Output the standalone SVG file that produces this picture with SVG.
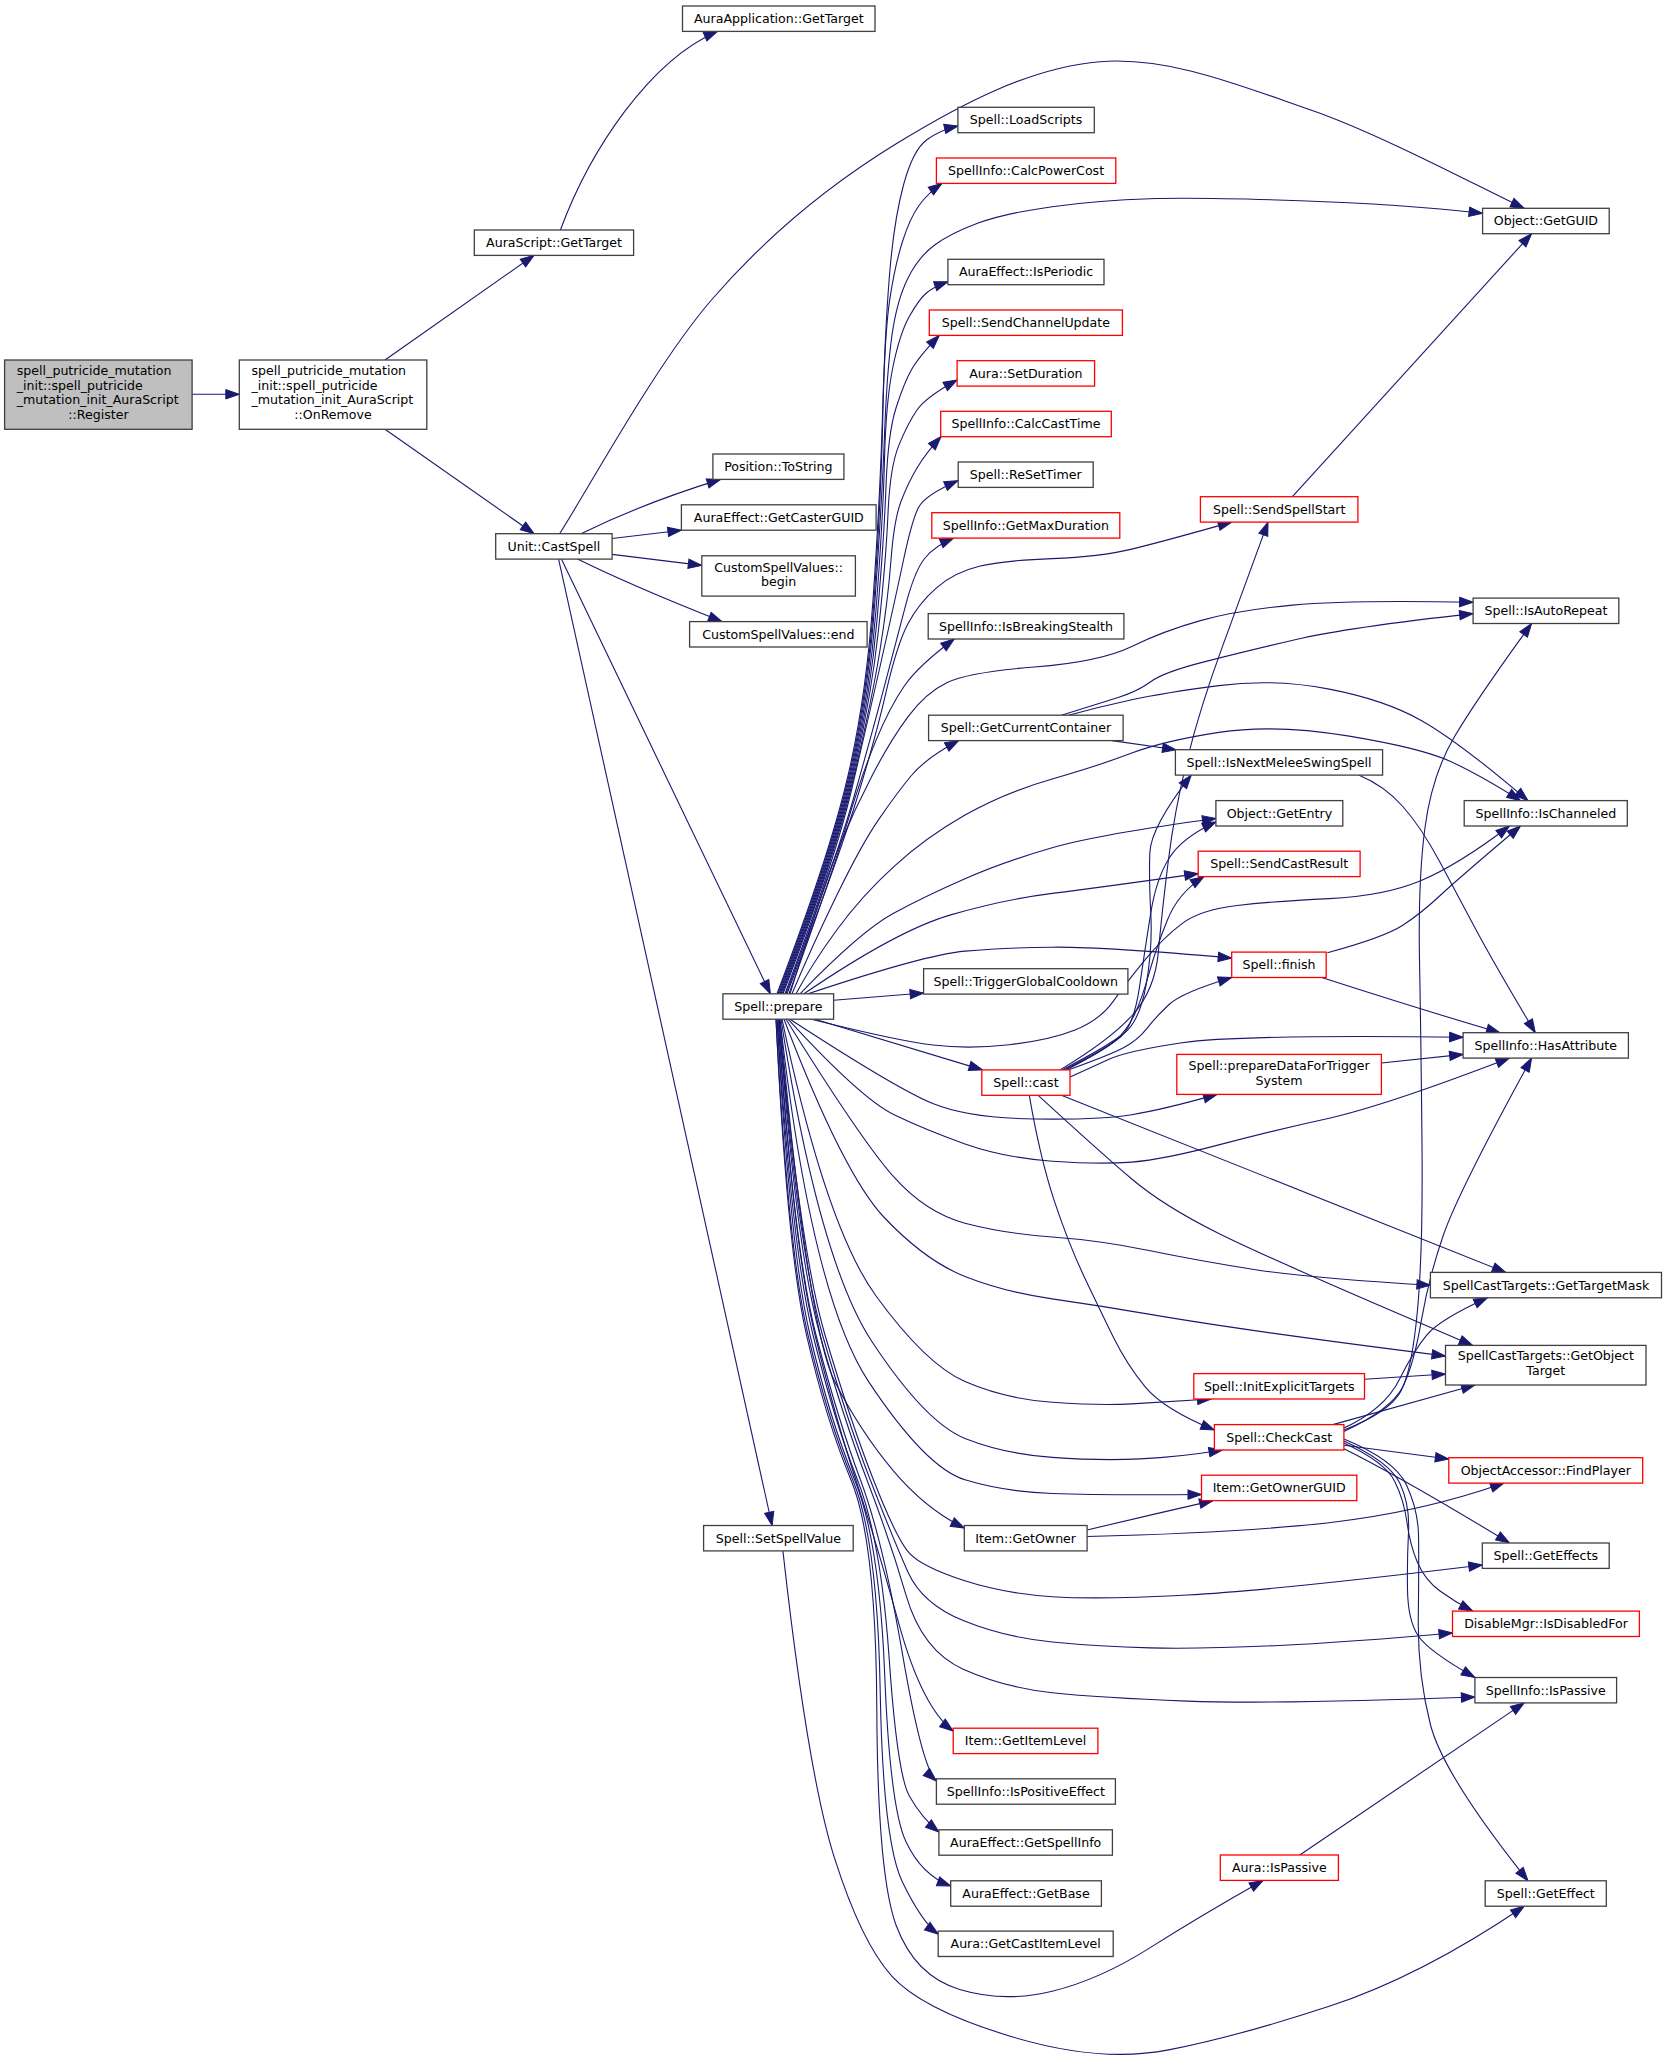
<svg xmlns="http://www.w3.org/2000/svg" width="1667" height="2066" viewBox="0 0 1667 2066">
<style>
.nd rect{fill:#fff;stroke:#404040;stroke-width:1.3}
.rd rect{fill:#fff;stroke:#ff0000;stroke-width:1.3}
.gr rect{fill:#bfbfbf;stroke:#404040;stroke-width:1.3}
text{font-family:"DejaVu Sans","Liberation Sans",sans-serif;font-size:12.6px;fill:#000;text-anchor:middle}
text.lt{text-anchor:start}
#edges path{fill:none;stroke:#191970;stroke-width:1.1;marker-end:url(#ah)}
</style>
<defs>
<marker id="ah" viewBox="0 0 14 10" refX="13.5" refY="5" markerWidth="14" markerHeight="10" orient="auto" markerUnits="userSpaceOnUse" overflow="visible"><path d="M0,0.3 L13.5,5 L0,9.7 Z" fill="#191970" stroke="#191970" stroke-width="1"/></marker>
</defs>
<rect x="0" y="0" width="1667" height="2066" fill="#fff"/>
<g id="edges">
<path d="M192.1,394.3 L239.3,394.3"/>
<path d="M385,360 L534,255.3"/>
<path d="M385,429.3 L534,533.7"/>
<path d="M560.4,230 C590,150 650,60 717.5,31.4"/>
<path d="M559.6,533.7 C584.9,494.8 655.2,365.1 711.4,300 C767.6,234.9 832.2,183 897,143.3 C961.8,103.6 1031,67.3 1100,61.7 C1169,56.2 1240.1,85.6 1310.8,110 C1381.5,134.4 1488.6,191.9 1524.2,208.3"/>
<path d="M581,533.7 C611,519 660,498 720.5,479.4"/>
<path d="M612.1,538.5 L681.4,530.2"/>
<path d="M612.1,554.4 L701.8,565.4"/>
<path d="M577.5,559.1 C620,580 680,605 722,621.6"/>
<path d="M561.4,559.1 L770.4,993.8"/>
<path d="M558.6,559.1 L772.1,1525.5"/>
<path d="M777,993.8 Q828,860 847,780 Q866,700 873,600 Q880,500 882.5,415 Q885,330 889.5,275 Q894,220 903.5,185 Q913,150 926.5,140 Q940,130 957.9,126"/>
<path d="M778,993.8 Q829,860 848,780 Q867,700 874,600 Q881,500 882.8,416.7 Q884.6,333.3 889.8,299.2 Q895,265 902.5,241.5 Q910,218 919,205.5 Q928,193 942,183.4"/>
<path d="M779,993.8 Q830,860 849,780 Q868,700 875,600 Q882,500 884.5,435 Q887,370 892,335 Q897,300 907.8,278.4 Q918.6,256.7 934.7,245 Q950.7,233.3 977.5,223.3 Q1004.3,213.3 1052.2,206.7 Q1100,200 1150,198.7 Q1200,197.3 1300,200.7 Q1400,204 1482.6,213.3"/>
<path d="M780,993.8 Q831,860 850,780 Q869,700 876,610 Q883,520 884.5,460 Q886,400 893,366.5 Q900,333 909.3,316.5 Q918.6,300 925.8,293.5 Q933,287 947.9,281.7"/>
<path d="M781,993.8 Q832,860 851,780 Q870,700 877,620 Q884,540 886,486.5 Q888,433 896,408 Q904,383 911.3,370 Q918.6,357 939.3,335.4"/>
<path d="M782,993.8 Q833,860 852,780 Q871,700 878.5,630 Q886,560 888,513.4 Q890,466.7 899,444.9 Q908,423 917,410 Q926,397 957.1,380"/>
<path d="M783,993.8 Q834,860 853,780 Q872,700 880,650 Q888,600 891,560 Q894,520 901,501.5 Q908,483 917,468 Q926,453 941,436.7"/>
<path d="M785,993.8 Q835,860 851.5,790 Q868,720 881.5,660 Q895,600 903.5,560 Q912,520 918.5,507.5 Q925,495 957.9,480.7"/>
<path d="M786,993.8 Q836,860 854.5,795 Q873,730 885,683.9 Q897,637.7 906,603.9 Q915,570 925,558 Q935,546 953.6,538.1"/>
<path d="M787,993.8 Q838,860 856.5,800 Q875,740 886,692.3 Q897,644.6 907.8,624 Q918.6,603.3 936.5,587.8 Q954.3,572.3 979.3,566.3 Q1004.3,560.3 1052.2,558.6 Q1100,556.8 1131.8,549.1 Q1163.6,541.3 1231.7,522.1"/>
<path d="M789,993.8 Q830,880 845.7,827.8 Q861.4,775.5 875.7,741.1 Q890,706.6 904.3,686 Q918.6,665.3 954.3,639"/>
<path d="M790,993.8 Q825,880 839.7,845 Q854.3,809.9 872.2,775.5 Q890,741 907.9,716.9 Q925.7,692.8 947.2,682.5 Q968.6,672.2 1034.3,667 Q1100,661.8 1131.8,646.4 Q1163.6,630.9 1200.4,620.6 Q1237.2,610.2 1292.4,605.1 Q1347.6,599.9 1473.1,602.3"/>
<path d="M792,993.8 Q811.4,947.7 836.4,896.1 Q861.4,844.4 879.3,818.6 Q897.1,792.7 911.4,775.5 Q925.7,758.3 958.6,740.6"/>
<path d="M796,993.8 Q811.4,964.9 836.4,930.5 Q861.4,896 893.6,866.8 Q925.7,837.5 965,815.1 Q1004.3,792.7 1052.2,779 Q1100,765.2 1131.8,753.1 Q1163.6,741 1218.8,732.4 Q1274,723.8 1347.6,735.9 Q1421.2,748 1450.6,761.5 Q1480,775 1520.5,800.6"/>
<path d="M800,993.8 Q861.4,930.4 893.6,913.2 Q925.7,896 965,878.8 Q1004.3,861.6 1052.2,847.8 Q1100,834 1215.9,818.5"/>
<path d="M804,993.8 Q897.1,930.4 950.7,914.9 Q1004.3,899.4 1052.2,893.4 Q1100,887.4 1198.2,873.6"/>
<path d="M808,993.8 Q925.7,954.5 965,951.1 Q1004.3,947.7 1052.2,947.2 Q1100,946.6 1231.7,958"/>
<path d="M833.6,1000.3 L923.6,993"/>
<path d="M815,1019.2 L982.5,1069.9"/>
<path d="M790,1019.2 Q897,1088.9 932.8,1103.5 Q968.6,1118.1 1034.3,1119 Q1100,1119.9 1131.8,1114.7 Q1163.6,1109.5 1217,1094.4"/>
<path d="M788,1019.2 Q861.4,1099 893.6,1114.5 Q925.7,1130 965,1143.9 Q1004.3,1157.7 1052.2,1161.2 Q1100,1164.6 1131.8,1162.1 Q1163.6,1159.5 1218.8,1144.9 Q1274,1130.2 1329.2,1118.2 Q1384.4,1106.1 1509.5,1058.1"/>
<path d="M786,1019.2 Q861.4,1140.5 893.6,1176.7 Q925.7,1212.8 965,1223.2 Q1004.3,1233.5 1052.2,1237 Q1100,1240.4 1150.2,1250.7 Q1200.4,1261 1255.6,1269.7 Q1310.8,1278.3 1430.4,1285.2"/>
<path d="M784,1019.2 Q843.6,1175 884.7,1218 Q925.7,1261 965,1276.5 Q1004.3,1292 1052.2,1298.9 Q1100,1305.8 1150.2,1314.4 Q1200.4,1323 1274,1333.4 Q1347.6,1343.7 1445.5,1356"/>
<path d="M782,1019.2 Q825.7,1226.6 875.7,1295.5 Q925.7,1364.4 965,1381.6 Q1004.3,1398.8 1052.2,1402.3 Q1100,1405.7 1131.8,1403.9 Q1163.6,1402 1211,1399"/>
<path d="M781,1019.2 Q818.6,1261 872.2,1342 Q925.7,1422.9 965,1438.4 Q1004.3,1453.9 1052.2,1457.4 Q1100,1460.8 1140,1458.9 Q1180,1457 1222.5,1450"/>
<path d="M780,1019.2 Q811.4,1295.5 868.6,1381.6 Q925.7,1467.7 965,1479.8 Q1004.3,1491.8 1052.2,1493.5 Q1100,1495.2 1201.5,1494.5"/>
<path d="M780,1019.2 Q807.9,1330 834.7,1381.6 Q861.4,1433.2 893.6,1471.1 Q925.7,1509 964.3,1528"/>
<path d="M779,1019.2 Q800,1250 825,1335 Q850,1420 873.5,1480 Q897,1540 909.6,1553.4 Q922.1,1566.8 963.2,1580.3 Q1004.3,1593.7 1052.2,1596.7 Q1100,1599.7 1187,1595 Q1274,1590.3 1482.3,1565"/>
<path d="M779,1019.2 Q798,1250 822.5,1335 Q847,1420 870.3,1480 Q893.6,1540 907.9,1571.9 Q922.1,1603.7 963.2,1620.5 Q1004.3,1637.3 1052.2,1642 Q1100,1646.7 1150.2,1647.9 Q1200.4,1649 1274,1645.7 Q1347.6,1642.3 1452.5,1633"/>
<path d="M779,1019.2 Q796,1250 820,1335 Q844,1420 867,1480 Q890,1540 906.1,1595.4 Q922.1,1650.7 963.2,1669.2 Q1004.3,1687.6 1052.2,1692.7 Q1100,1697.7 1187,1701.1 Q1274,1704.4 1474.9,1697"/>
<path d="M778,1019.2 Q794,1250 815,1335 Q836,1420 855.9,1480 Q875.7,1540 898.9,1623.9 Q922.1,1707.7 953.2,1731"/>
<path d="M778,1019.2 Q794,1250 816,1335 Q838,1420 860.5,1480 Q882.9,1540 902.5,1654.1 Q922.1,1768.1 936.4,1781"/>
<path d="M777,1019.2 Q792,1250 813,1335 Q834,1420 857.5,1480 Q881,1540 889.1,1657.4 Q897.1,1774.8 909.6,1796.6 Q922.1,1818.4 938.9,1832"/>
<path d="M777,1019.2 Q790,1250 810,1335 Q830,1420 854.7,1480 Q879.3,1540 884.7,1674.2 Q890,1808.4 906.1,1842 Q922.1,1875.5 950.7,1886"/>
<path d="M776,1019.2 Q788,1250 808,1335 Q828,1420 852.8,1480 Q877.5,1540 880.2,1691 Q882.9,1841.9 902.5,1882.2 Q922.1,1922.4 938.2,1934"/>
<path d="M776,1019.2 Q787,1250 806.5,1335 Q826,1420 851,1480 Q876,1540 876.8,1707.8 Q877.5,1875.5 896.3,1925.8 Q915,1976.1 959.7,1989.5 Q1004.3,2002.9 1052.2,1991.2 Q1100,1979.5 1150.2,1947.6 Q1200.4,1915.7 1263,1880.4"/>
<path d="M811.4,1019.2 Q897.1,1040.7 932.9,1045 Q968.6,1049.3 1009.3,1044.7 Q1050,1040 1075,1030 Q1100,1020 1113.4,1001.1 Q1126.8,982.1 1145.2,959.7 Q1163.6,937.3 1182,923.6 Q1200.4,909.8 1237.2,905.5 Q1274,901.2 1329.2,898.6 Q1384.4,896 1421.2,880.5 Q1458,865 1509.5,826"/>
<path d="M782.9,1550.9 Q807.9,1774.8 834.7,1858.7 Q861.4,1942.6 891.8,1976.1 Q922.1,2009.6 1011.1,2036.5 Q1100,2063.3 1168.6,2049.9 Q1237.2,2036.5 1329.2,2006.3 Q1421.2,1976.1 1524.2,1906.2"/>
<path d="M1060,1069.9 Q1110,1040 1132.5,1015 Q1155,990 1158.4,951.6 Q1161.8,913.2 1168.2,861.6 Q1174.6,809.9 1187.5,758.3 Q1200.4,706.6 1222.5,646.4 Q1244.6,586.1 1268,522.1"/>
<path d="M1062,1069.9 Q1110,1045 1125,1032.5 Q1140,1020 1146.3,983.9 Q1152.6,947.7 1150.8,913.3 Q1148.9,878.8 1149.8,853 Q1150.7,827.1 1191.2,775.1"/>
<path d="M1064,1069.9 Q1108,1048 1121,1036.5 Q1134,1025 1139.6,986.4 Q1145.2,947.7 1150.7,913.3 Q1156.2,878.8 1169.1,858.2 Q1182,837.5 1215.9,822"/>
<path d="M1066,1069.9 Q1105,1050 1116,1040 Q1127,1030 1134.3,1015 Q1141.5,1000 1148.9,973.9 Q1156.2,947.7 1167.3,920.2 Q1178.3,892.6 1204,876.6"/>
<path d="M1068,1070 Q1110,1055 1123.9,1047.5 Q1137.8,1040 1147,1028.3 Q1156.2,1016.5 1169.1,1004.5 Q1182,992.4 1231.7,977.5"/>
<path d="M1070,1077 Q1090,1068.2 1108.4,1059.6 Q1126.8,1051 1182,1042.8 Q1237.2,1034.5 1463.1,1037.2"/>
<path d="M1029.3,1095.3 Q1040,1157.7 1054.3,1200.8 Q1068.6,1243.8 1084.3,1276.9 Q1100,1310 1113.4,1337.2 Q1126.8,1364.4 1145.2,1386.8 Q1163.6,1409.1 1214.4,1430"/>
<path d="M1038.2,1095.3 Q1100,1152 1131.8,1179 Q1163.6,1206 1218.8,1233.5 Q1274,1261 1472.7,1345.4"/>
<path d="M1061.4,1095.3 L1505.8,1272.4"/>
<path d="M1061.4,715.2 Q1100,703.2 1118.9,697.2 Q1137.8,691.1 1150.7,681.7 Q1163.6,672.2 1204.1,661.9 Q1244.6,651.5 1296.1,639.5 Q1347.6,627.4 1473.1,613.6"/>
<path d="M1068.6,715.2 Q1100,706.6 1131.8,699.7 Q1163.6,692.8 1218.8,685.6 Q1274,678.4 1329.2,689.1 Q1384.4,699.7 1421.2,720.4 Q1458,741 1527.9,800.6"/>
<path d="M1112,740.6 L1176,749.7"/>
<path d="M1292.4,496.7 L1531.6,233.7"/>
<path d="M1358.6,775.1 Q1384.4,785.8 1402.8,806.5 Q1421.2,827.1 1439.6,861.6 Q1458,896 1476.4,930.5 Q1494.8,964.9 1535.3,1032.7"/>
<path d="M1327.4,952.8 Q1384.4,937.3 1402.8,925.3 Q1421.2,913.2 1439.6,896 Q1458,878.8 1520.5,826"/>
<path d="M1321.8,977.5 Q1421.2,1009.6 1500,1032.7"/>
<path d="M1381.4,1063 L1463.1,1054.4"/>
<path d="M1364.5,1379.2 L1445.5,1374"/>
<path d="M1343.9,1430 Q1390,1412 1401,1391 Q1412,1370 1417.5,1310 Q1423,1250 1422,1145 Q1421,1040 1419.5,960 Q1418,880 1425,827.5 Q1432,775 1454,737.5 Q1476,700 1531.6,623.5"/>
<path d="M1343.9,1431.5 Q1391.8,1409.1 1402.8,1386.8 Q1413.8,1364.4 1421.2,1321.4 Q1428.5,1278.3 1443.3,1235.3 Q1458,1192.2 1531.6,1058.1"/>
<path d="M1343.9,1428 Q1384.4,1409.1 1399.1,1379.9 Q1413.8,1350.6 1426.7,1335.1 Q1439.6,1319.6 1487.4,1297.8"/>
<path d="M1332.9,1424.6 L1475,1385"/>
<path d="M1343.9,1445.3 L1448.8,1459"/>
<path d="M1343.9,1448.7 Q1402.8,1478 1509.5,1543"/>
<path d="M1343.9,1443 Q1385,1462 1394.5,1481 Q1404,1500 1407,1522.5 Q1410,1545 1417.5,1562.5 Q1425,1580 1440,1591 Q1455,1602 1472.7,1611.1"/>
<path d="M1343.9,1441 Q1390,1462 1400,1483.5 Q1410,1505 1408.5,1532.5 Q1407,1560 1407.5,1590 Q1408,1620 1418,1635.5 Q1428,1651 1474.9,1677.5"/>
<path d="M1343.9,1439 Q1395,1460 1406.5,1485 Q1418,1510 1418.5,1535 Q1419,1560 1418.3,1617.1 Q1417.5,1674.2 1430.4,1724.5 Q1443.3,1774.8 1528,1880.8"/>
<path d="M1087.1,1530 Q1150,1515 1213,1500.6"/>
<path d="M1087.1,1536.5 Q1237,1533 1329,1522.7 Q1421,1512.4 1504,1483.1"/>
<path d="M1299.8,1855 L1524.2,1702.9"/>
</g>
<g id="n_register" class="gr"><rect x="4.6" y="360" width="187.5" height="69.3"/><text class="lt" x="16.8" y="375.1">spell_putricide_mutation</text><text class="lt" x="16.8" y="389.8">_init::spell_putricide</text><text class="lt" x="16.8" y="404.4">_mutation_init_AuraScript</text><text x="98.4" y="419.1">::Register</text></g>
<g id="n_onremove" class="nd"><rect x="239.3" y="360" width="187.5" height="69.3"/><text class="lt" x="251.4" y="375.1">spell_putricide_mutation</text><text class="lt" x="251.4" y="389.8">_init::spell_putricide</text><text class="lt" x="251.4" y="404.4">_mutation_init_AuraScript</text><text x="333" y="419.1">::OnRemove</text></g>
<g id="n_auascript_gettarget" class="nd"><rect x="474.3" y="230" width="159.3" height="25.4"/><text x="554" y="247">AuraScript::GetTarget</text></g>
<g id="n_auraapp_gettarget" class="nd"><rect x="682.5" y="6" width="192.5" height="25.4"/><text x="778.8" y="23.1">AuraApplication::GetTarget</text></g>
<g id="n_castspell" class="nd"><rect x="495.7" y="533.7" width="116.4" height="25.4"/><text x="553.9" y="550.8">Unit::CastSpell</text></g>
<g id="n_getguid" class="nd"><rect x="1482.6" y="208.3" width="126.6" height="25.4"/><text x="1545.9" y="225.4">Object::GetGUID</text></g>
<g id="n_loadscripts" class="nd"><rect x="957.9" y="107.3" width="136.4" height="25.4"/><text x="1026.1" y="124.4">Spell::LoadScripts</text></g>
<g id="n_calcpowercost" class="rd"><rect x="936.4" y="158" width="179.4" height="25.4"/><text x="1026.1" y="175.1">SpellInfo::CalcPowerCost</text></g>
<g id="n_isperiodic" class="nd"><rect x="947.9" y="259.3" width="156.1" height="25.4"/><text x="1026" y="276.4">AuraEffect::IsPeriodic</text></g>
<g id="n_sendchannelupdate" class="rd"><rect x="929.3" y="310" width="193.1" height="25.4"/><text x="1025.9" y="327.1">Spell::SendChannelUpdate</text></g>
<g id="n_setduration" class="rd"><rect x="957.1" y="360.7" width="137.5" height="25.4"/><text x="1025.9" y="377.8">Aura::SetDuration</text></g>
<g id="n_calccasttime" class="rd"><rect x="940.7" y="411.3" width="170.6" height="25.4"/><text x="1026" y="428.4">SpellInfo::CalcCastTime</text></g>
<g id="n_resettimer" class="nd"><rect x="958.2" y="462" width="135" height="25.4"/><text x="1025.7" y="479.1">Spell::ReSetTimer</text></g>
<g id="n_tostring" class="nd"><rect x="712.9" y="454" width="131" height="25.4"/><text x="778.4" y="471.1">Position::ToString</text></g>
<g id="n_getcasterguid" class="nd"><rect x="681.4" y="504.8" width="194.7" height="25.4"/><text x="778.8" y="521.9">AuraEffect::GetCasterGUID</text></g>
<g id="n_getmaxduration" class="rd"><rect x="931.8" y="512.7" width="188" height="25.4"/><text x="1025.8" y="529.8">SpellInfo::GetMaxDuration</text></g>
<g id="n_sendspellstart" class="rd"><rect x="1200.4" y="496.7" width="157.5" height="25.4"/><text x="1279.2" y="513.8">Spell::SendSpellStart</text></g>
<g id="n_csv_begin" class="nd"><rect x="701.8" y="555.8" width="153.6" height="40.3"/><text x="778.6" y="571.5">CustomSpellValues::</text><text x="778.6" y="586.2">begin</text></g>
<g id="n_csv_end" class="nd"><rect x="689.6" y="621.6" width="177.5" height="25.4"/><text x="778.4" y="638.7">CustomSpellValues::end</text></g>
<g id="n_isbreakingstealth" class="nd"><rect x="928.2" y="613.6" width="195.7" height="25.4"/><text x="1026" y="630.7">SpellInfo::IsBreakingStealth</text></g>
<g id="n_getcurrentcontainer" class="nd"><rect x="928.6" y="715.2" width="194.5" height="25.4"/><text x="1025.9" y="732.3">Spell::GetCurrentContainer</text></g>
<g id="n_triggergcd" class="nd"><rect x="923.6" y="968.7" width="204.3" height="25.4"/><text x="1025.8" y="985.8">Spell::TriggerGlobalCooldown</text></g>
<g id="n_prepare" class="nd"><rect x="722.9" y="993.8" width="110.7" height="25.4"/><text x="778.3" y="1010.9">Spell::prepare</text></g>
<g id="n_isautorepeat" class="nd"><rect x="1473.1" y="598.1" width="145.7" height="25.4"/><text x="1546" y="615.2">Spell::IsAutoRepeat</text></g>
<g id="n_isnextmelee" class="nd"><rect x="1175.4" y="749.7" width="207.2" height="25.4"/><text x="1279" y="766.8">Spell::IsNextMeleeSwingSpell</text></g>
<g id="n_getentry" class="nd"><rect x="1215.9" y="800.6" width="126.9" height="25.4"/><text x="1279.4" y="817.7">Object::GetEntry</text></g>
<g id="n_ischanneled" class="nd"><rect x="1464.2" y="800.6" width="163.1" height="25.4"/><text x="1545.8" y="817.7">SpellInfo::IsChanneled</text></g>
<g id="n_sendcastresult" class="rd"><rect x="1198.2" y="851.2" width="161.9" height="25.4"/><text x="1279.2" y="868.3">Spell::SendCastResult</text></g>
<g id="n_finish" class="rd"><rect x="1231.7" y="952.1" width="94.5" height="25.4"/><text x="1279" y="969.2">Spell::finish</text></g>
<g id="n_hasattribute" class="nd"><rect x="1463.1" y="1032.7" width="165.3" height="25.4"/><text x="1545.8" y="1049.8">SpellInfo::HasAttribute</text></g>
<g id="n_cast" class="rd"><rect x="981.8" y="1069.9" width="88.2" height="25.4"/><text x="1025.9" y="1087">Spell::cast</text></g>
<g id="n_preparedata" class="rd"><rect x="1176.8" y="1054.4" width="204.6" height="40"/><text x="1279.1" y="1069.9">Spell::prepareDataForTrigger</text><text x="1279.1" y="1084.5">System</text></g>
<g id="n_gettargetmask" class="nd"><rect x="1430.4" y="1272.4" width="231.1" height="25.4"/><text x="1546" y="1289.5">SpellCastTargets::GetTargetMask</text></g>
<g id="n_getobjecttarget" class="nd"><rect x="1445.5" y="1345.4" width="200.5" height="39.6"/><text x="1545.8" y="1360">SpellCastTargets::GetObject</text><text x="1545.8" y="1374.9">Target</text></g>
<g id="n_initexplicittargets" class="rd"><rect x="1193.8" y="1373.6" width="170.7" height="25.4"/><text x="1279.2" y="1390.7">Spell::InitExplicitTargets</text></g>
<g id="n_checkcast" class="rd"><rect x="1214.4" y="1424.6" width="129.5" height="25.4"/><text x="1279.2" y="1441.7">Spell::CheckCast</text></g>
<g id="n_findplayer" class="rd"><rect x="1448.8" y="1457.7" width="193.9" height="25.4"/><text x="1545.8" y="1474.8">ObjectAccessor::FindPlayer</text></g>
<g id="n_getownerguid" class="rd"><rect x="1201.5" y="1475.2" width="155.3" height="25.4"/><text x="1279.2" y="1492.3">Item::GetOwnerGUID</text></g>
<g id="n_setspellvalue" class="nd"><rect x="703.6" y="1525.5" width="149.6" height="25.4"/><text x="778.4" y="1542.6">Spell::SetSpellValue</text></g>
<g id="n_getowner" class="nd"><rect x="964.3" y="1525.5" width="122.8" height="25.4"/><text x="1025.7" y="1542.6">Item::GetOwner</text></g>
<g id="n_geteffects" class="nd"><rect x="1482.3" y="1543" width="126.9" height="25.4"/><text x="1545.8" y="1560.1">Spell::GetEffects</text></g>
<g id="n_isdisabledfor" class="rd"><rect x="1452.5" y="1611.1" width="186.9" height="25.4"/><text x="1546" y="1628.2">DisableMgr::IsDisabledFor</text></g>
<g id="n_spellinfo_ispassive" class="nd"><rect x="1474.9" y="1677.5" width="141.7" height="25.4"/><text x="1545.8" y="1694.6">SpellInfo::IsPassive</text></g>
<g id="n_getitemlevel" class="rd"><rect x="953.2" y="1728.2" width="144.7" height="25.4"/><text x="1025.6" y="1745.3">Item::GetItemLevel</text></g>
<g id="n_ispositiveeffect" class="nd"><rect x="936.4" y="1778.8" width="179" height="25.4"/><text x="1025.9" y="1795.9">SpellInfo::IsPositiveEffect</text></g>
<g id="n_getspellinfo" class="nd"><rect x="938.9" y="1829.8" width="173.5" height="25.4"/><text x="1025.7" y="1846.9">AuraEffect::GetSpellInfo</text></g>
<g id="n_aura_ispassive" class="rd"><rect x="1220.3" y="1855" width="118.1" height="25.4"/><text x="1279.4" y="1872.1">Aura::IsPassive</text></g>
<g id="n_geteffect" class="nd"><rect x="1485.2" y="1880.8" width="121.1" height="25.4"/><text x="1545.8" y="1897.9">Spell::GetEffect</text></g>
<g id="n_getbase" class="nd"><rect x="950.7" y="1880.8" width="150.7" height="25.4"/><text x="1026" y="1897.9">AuraEffect::GetBase</text></g>
<g id="n_getcastitemlevel" class="nd"><rect x="938.2" y="1931.1" width="175" height="25.4"/><text x="1025.7" y="1948.2">Aura::GetCastItemLevel</text></g>
</svg>
